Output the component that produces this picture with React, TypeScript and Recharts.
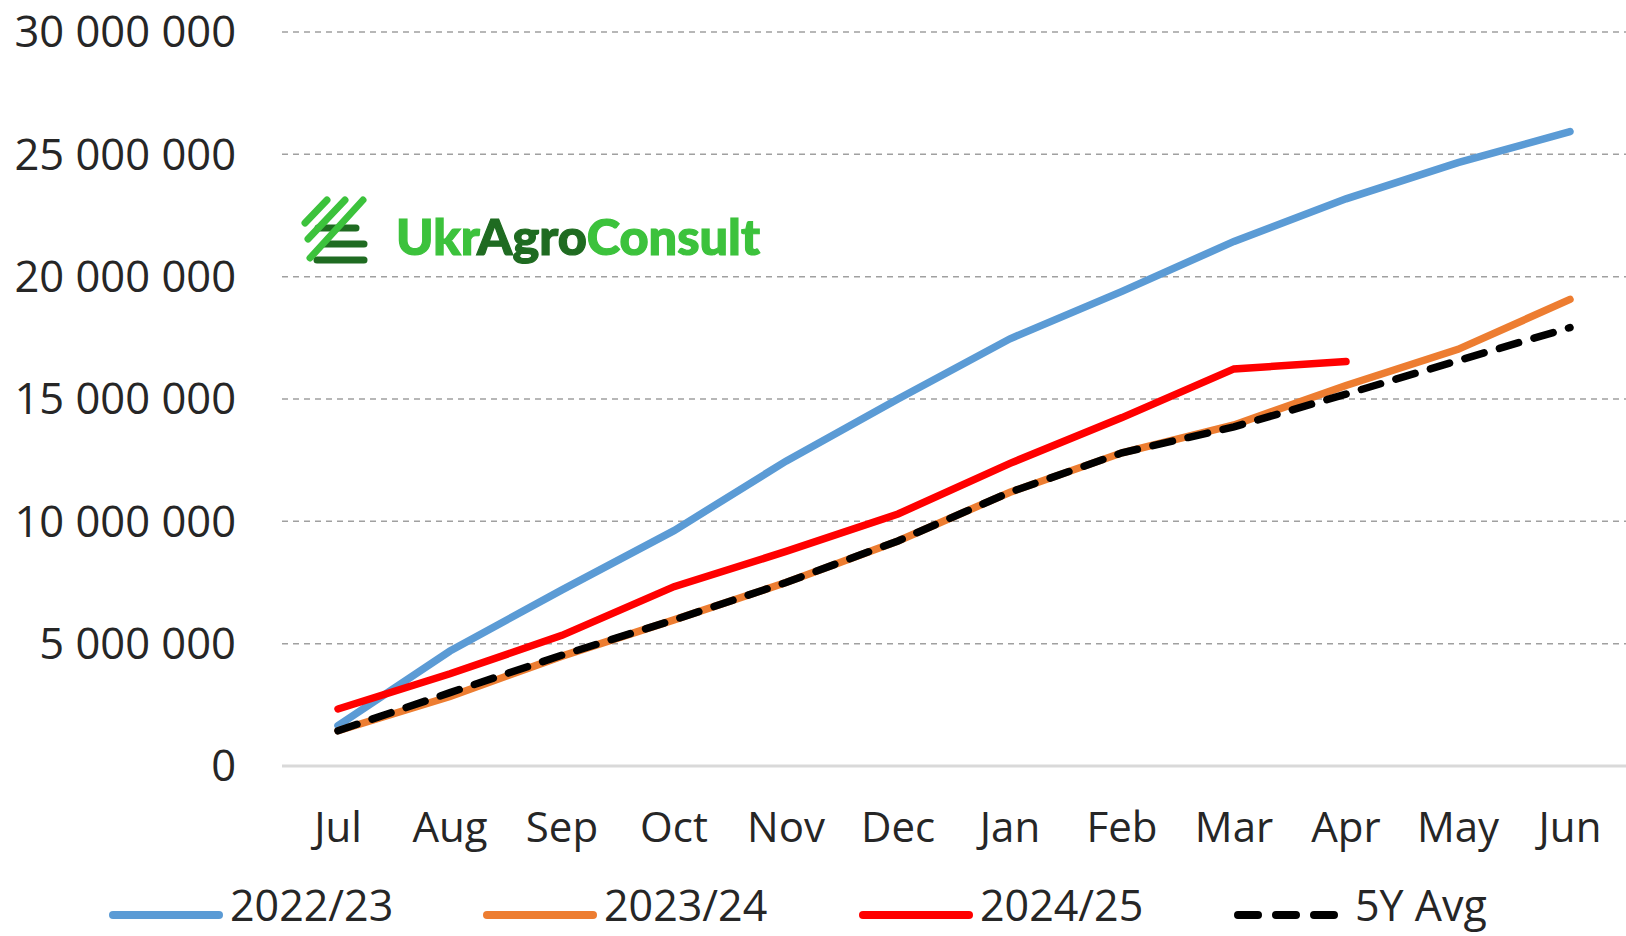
import React from "react";
import { LineChart, Line, XAxis, YAxis, CartesianGrid } from "recharts";

const months = ["Jul", "Aug", "Sep", "Oct", "Nov", "Dec", "Jan", "Feb", "Mar", "Apr", "May", "Jun"];
const yTicks = [0, 5000000, 10000000, 15000000, 20000000, 25000000, 30000000];

const s2223 = [1650000, 4700000, 7200000, 9620000, 12460000, 15000000, 17460000, 19400000, 21440000, 23180000, 24660000, 25930000];
const s2324 = [1440000, 2840000, 4490000, 5970000, 7500000, 9200000, 11190000, 12800000, 13940000, 15550000, 17030000, 19070000];
const s2425 = [2330000, 3770000, 5340000, 7330000, 8770000, 10300000, 12370000, 14240000, 16230000, 16530000, null, null];
const avg5y = [1440000, 3000000, 4530000, 5970000, 7500000, 9200000, 11190000, 12800000, 13860000, 15200000, 16570000, 17920000];

const data = months.map((m, i) => ({
  month: m,
  s2223: s2223[i],
  s2324: s2324[i],
  s2425: s2425[i],
  avg: avg5y[i],
}));

const legendItems = [
  { name: "2022/23", color: "#5b9bd5", dashed: false },
  { name: "2023/24", color: "#ed7d31", dashed: false },
  { name: "2024/25", color: "#ff0000", dashed: false },
  { name: "5Y Avg", color: "#000000", dashed: true },
];
const legendLeft = [109, 483, 859, 1234];

const FONT = "'Open Sans', sans-serif";

function formatSpaced(n: number) {
  return n.toString().replace(/\B(?=(\d{3})+(?!\d))/g, " ");
}

function Logo() {
  return (
    <svg width={480} height={80} style={{ position: "absolute", left: 300, top: 192 }}>
      <g strokeLinecap="round">
        <line x1={18} y1={36} x2={56} y2={36} stroke="#1f6b21" strokeWidth={7} />
        <line x1={24} y1={52} x2={64} y2={52} stroke="#1f6b21" strokeWidth={7} />
        <line x1={17} y1={68} x2={64} y2={68} stroke="#1f6b21" strokeWidth={7} />
        <line x1={5} y1={31} x2={27} y2={8} stroke="#3cc23c" strokeWidth={7} />
        <line x1={8} y1={47} x2={45} y2={8} stroke="#3cc23c" strokeWidth={7} />
        <line x1={10} y1={66} x2={63} y2={8} stroke="#3cc23c" strokeWidth={7} />
      </g>
      <text
        x={96}
        y={63}
        fontFamily="Lato, sans-serif"
        fontWeight={900}
        fontSize={50}
        textLength={364}
        lengthAdjust="spacingAndGlyphs"
      >
        <tspan fill="#3cc23c" stroke="#3cc23c" strokeWidth={1.2}>Ukr</tspan>
        <tspan fill="#1f6b21" stroke="#1f6b21" strokeWidth={1.2}>Agro</tspan>
        <tspan fill="#3cc23c" stroke="#3cc23c" strokeWidth={1.2}>Consult</tspan>
      </text>
    </svg>
  );
}

function ChartLegend() {
  return (
    <>
      {legendItems.map((item, i) => (
        <div
          key={item.name}
          style={{
            position: "absolute",
            left: legendLeft[i],
            top: 880,
            height: 50,
            display: "flex",
            alignItems: "center",
            fontFamily: FONT,
            fontSize: 43,
            lineHeight: "50px",
            color: "#262626",
          }}
        >
          <svg width={114} height={14} style={{ marginRight: 7, position: "relative", top: 10 }}>
            <line
              x1={4}
              y1={7}
              x2={item.dashed ? 104 : 110}
              y2={7}
              stroke={item.color}
              strokeWidth={8}
              strokeLinecap="round"
              strokeDasharray={item.dashed ? "20 18" : undefined}
            />
          </svg>
          <span>{item.name}</span>
        </div>
      ))}
    </>
  );
}

export default function App() {
  return (
    <div style={{ position: "relative", width: 1626, height: 936, background: "#fff", overflow: "hidden" }}>
      <style>{`body{margin:0}`}</style>
      <LineChart width={1626} height={936} data={data} margin={{ top: 32, right: 0, left: 0, bottom: 70 }}>
        <CartesianGrid vertical={false} stroke="#a0a0a0" strokeDasharray="6 5" strokeWidth={1.5} />
        <XAxis
          dataKey="month"
          height={100}
          padding={{ left: 56, right: 56 }}
          axisLine={{ stroke: "#d9d9d9", strokeWidth: 3 }}
          tickLine={false}
          tickSize={0}
          tickMargin={46}
          interval={0}
          tick={{ fontFamily: FONT, fontSize: 42, fill: "#262626" }}
        />
        <YAxis
          width={282}
          domain={[0, 30000000]}
          ticks={yTicks}
          axisLine={false}
          tickLine={false}
          tickSize={0}
          tickMargin={46}
          tickFormatter={formatSpaced}
          tick={{ fontFamily: FONT, fontSize: 43.5, fill: "#262626" }}
        />
        <Line dataKey="s2223" stroke="#5b9bd5" strokeWidth={7.5} dot={false} strokeLinecap="round" isAnimationActive={false} />
        <Line dataKey="s2324" stroke="#ed7d31" strokeWidth={7.5} dot={false} strokeLinecap="round" isAnimationActive={false} />
        <Line dataKey="s2425" stroke="#ff0000" strokeWidth={7.5} dot={false} strokeLinecap="round" isAnimationActive={false} />
        <Line
          dataKey="avg"
          stroke="#000000"
          strokeWidth={7.5}
          strokeDasharray="20 16"
          strokeLinecap="round"
          dot={false}
          isAnimationActive={false}
        />
      </LineChart>
      <Logo />
      <ChartLegend />
    </div>
  );
}
